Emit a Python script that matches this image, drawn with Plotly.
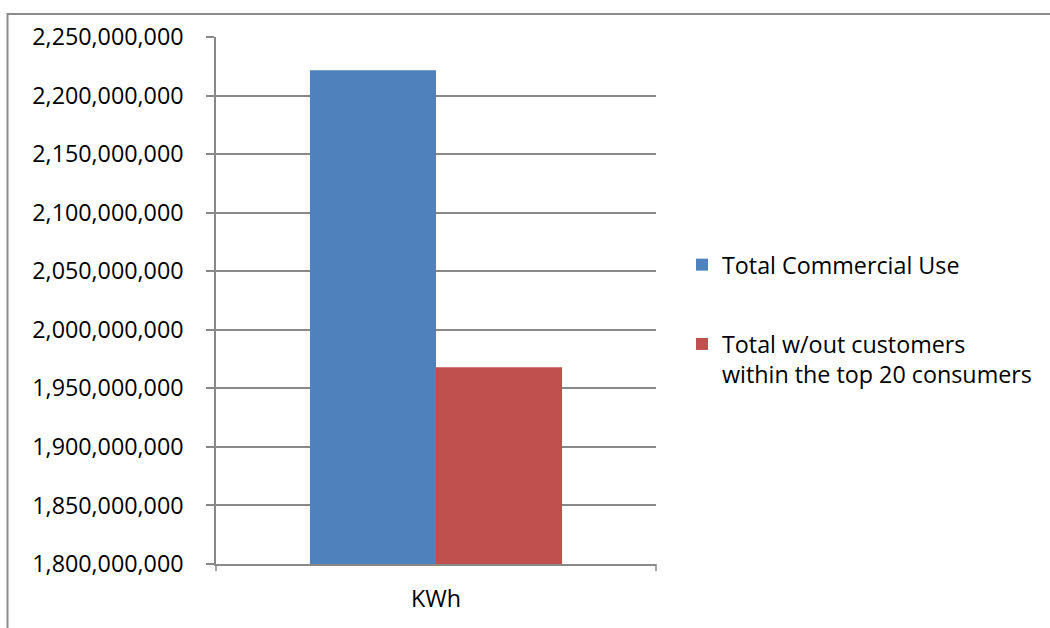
import plotly.graph_objects as go

# Annual commercial electricity consumption
categories = ["KWh"]
series_names = [
    "Total Commercial Use",
    "Total w/out customers<br>within the top 20 consumers",
]
total_commercial = [2221600000]
without_top20 = [1968000000]

y_range = [1800000000, 2250000000]
y_step = 50000000

W, H = 1050, 628
L, R, T, B = 216, 394, 37, 64
pw, ph = W - L - R, H - T - B

grid_color = "#888888"
border_color = "#8c8c8c"
font = dict(family="Open Sans, Liberation Sans, sans-serif", size=23.3, color="#000000")

fig = go.Figure()
fig.add_trace(go.Bar(x=categories, y=total_commercial, name=series_names[0],
                     marker=dict(color="#4F81BD", line=dict(width=0)),
                     legendgroup="a"))
fig.add_trace(go.Bar(x=categories, y=without_top20, name=series_names[1],
                     marker=dict(color="#C0504D", line=dict(width=0)),
                     legendgroup="b"))


def px_x(p):
    return (p - L) / pw


def px_y(p):
    return (H - B - p) / ph


shapes = [
    # chart-area border: top and left edges
    dict(type="line", xref="paper", yref="paper",
         x0=px_x(7), x1=px_x(W + 10), y0=px_y(14), y1=px_y(14),
         line=dict(color=border_color, width=2), layer="above"),
    dict(type="line", xref="paper", yref="paper",
         x0=px_x(7.5), x1=px_x(7.5), y0=px_y(13), y1=px_y(H + 10),
         line=dict(color=border_color, width=2), layer="above"),
    # category boundary tick marks on the x axis
    dict(type="line", xref="x domain", yref="paper", x0=0, x1=0,
         y0=0, y1=px_y(H - B + 7), line=dict(color=grid_color, width=1.5)),
    dict(type="line", xref="x domain", yref="paper", x0=1, x1=1,
         y0=0, y1=px_y(H - B + 7), line=dict(color=grid_color, width=1.5)),
]

fig.update_layout(
    width=W, height=H,
    margin=dict(l=L, r=R, t=T, b=B),
    paper_bgcolor="white", plot_bgcolor="white",
    font=font,
    barmode="group", bargap=0.427, bargroupgap=0,
    shapes=shapes,
    legend=dict(
        x=px_x(682), y=px_y(243), xanchor="left", yanchor="top",
        xref="paper", yref="paper",
        traceorder="grouped", tracegroupgap=46, valign="top",
        font=font, bgcolor="rgba(0,0,0,0)",
    ),
)

fig.update_xaxes(
    showline=True, linecolor=grid_color, linewidth=1.5,
    showgrid=False, ticks="", ticklabelstandoff=13,
    tickfont=font,
)
fig.update_yaxes(
    range=y_range, dtick=y_step, tick0=y_range[0], tickformat=",d",
    showline=True, linecolor=grid_color, linewidth=1.5,
    showgrid=True, gridcolor=grid_color, gridwidth=1.5,
    ticks="outside", ticklen=8, tickcolor=grid_color, tickwidth=1.5,
    ticklabelstandoff=18, tickfont=font, zeroline=False,
)

fig.write_html("out.html", config={"displayModeBar": False})
